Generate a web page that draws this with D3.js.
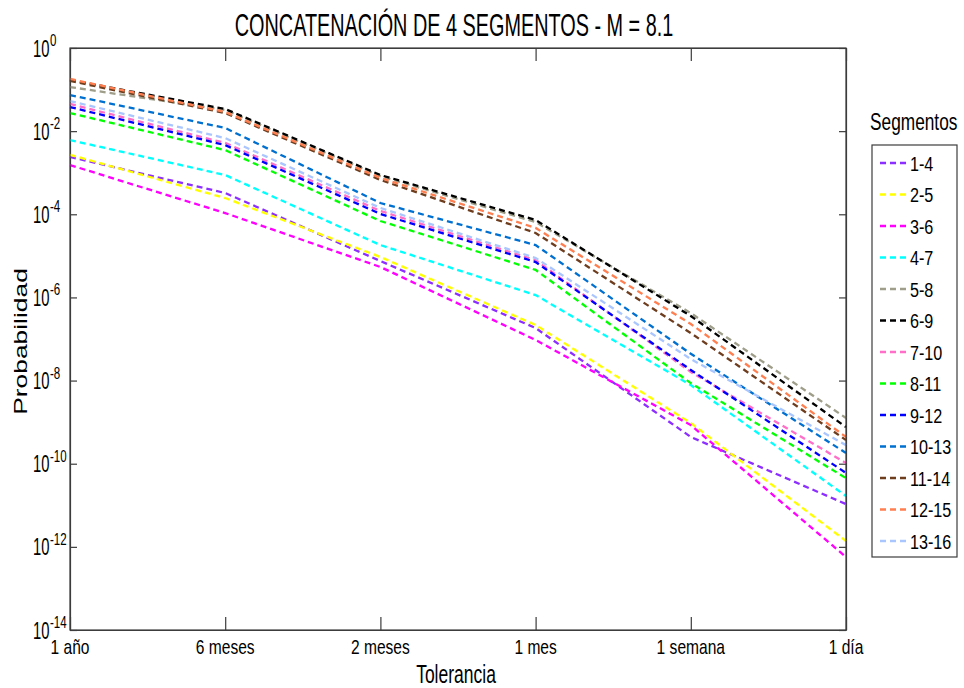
<!DOCTYPE html>
<html>
<head>
<meta charset="utf-8">
<script src="https://cdn.jsdelivr.net/npm/d3@7/dist/d3.min.js"></script>
<style>
  html, body { margin: 0; padding: 0; background: #fff; }
  svg text { font-family: Arial, "Liberation Sans", Helvetica, sans-serif; fill: #000; }
</style>
</head>
<body>
<svg id="chart" width="964" height="688"></svg>
<script>
// Tolerance categories along the x axis
const categories = ["1 año", "6 meses", "2 meses", "1 mes", "1 semana", "1 día"];

// Probability per tolerance for each group of 4 segments
const seg1_4   = [2.4e-3, 3.25e-4, 7.5e-6, 1.84e-7, 4.4e-10, 1.07e-11];
const seg2_5   = [2.7e-3, 2.46e-4, 9.4e-6, 2.17e-7, 9.5e-10, 1.38e-12];
const seg3_6   = [1.53e-3, 1.07e-4, 5.4e-6, 9.5e-8, 8.5e-10, 5.7e-13];
const seg4_7   = [6.1e-3, 8.8e-4, 1.82e-5, 1.14e-6, 7.8e-9, 1.67e-11];
const seg5_8   = [0.115, 3.23e-2, 8.3e-4, 6.5e-5, 4.2e-7, 1.26e-9];
const seg6_9   = [0.170, 3.41e-2, 8.8e-4, 7.3e-5, 3.57e-7, 7.6e-10];
const seg7_10  = [4.5e-2, 5.2e-3, 1.2e-4, 7.9e-6, 1.61e-8, 1.04e-10];
const seg8_11  = [2.73e-2, 3.5e-3, 6.9e-5, 4.6e-6, 8.7e-9, 4.5e-11];
const seg9_12  = [3.8e-2, 4.6e-3, 1.02e-4, 7.1e-6, 1.8e-8, 6.0e-11];
const seg10_13 = [7.4e-2, 1.19e-2, 1.87e-4, 1.82e-5, 4.4e-8, 1.81e-10];
const seg11_14 = [0.161, 2.73e-2, 6.7e-4, 3.55e-5, 1.39e-7, 3.7e-10];
const seg12_15 = [0.180, 2.89e-2, 7.5e-4, 4.7e-5, 2.3e-7, 4.4e-10];
const seg13_16 = [5.3e-2, 6.8e-3, 1.42e-4, 8.9e-6, 3.3e-8, 2.8e-10];

const seriesNames = ["1-4", "2-5", "3-6", "4-7", "5-8", "6-9", "7-10", "8-11", "9-12", "10-13", "11-14", "12-15", "13-16"];
const seriesValues = [seg1_4, seg2_5, seg3_6, seg4_7, seg5_8, seg6_9, seg7_10, seg8_11, seg9_12, seg10_13, seg11_14, seg12_15, seg13_16];
const seriesColors = ["#8c2eff", "#ffff00", "#ff00ff", "#00ffff", "#9e9e8a", "#000000", "#ff6ec8",
                      "#00ff00", "#0000ff", "#0070d0", "#6e3d1e", "#ff7f50", "#aac6ff"];

// Decade ticks on the y axis (exponents of 10)
const yTickExponents = [0, -2, -4, -6, -8, -10, -12, -14];

const svg = d3.select("#chart");
const plot = { left: 70, right: 846, top: 48, bottom: 630 };
const axisColor = "#3c3c3c";

const x = d3.scalePoint().domain(categories).range([plot.left, plot.right]);
const y = d3.scaleLog().domain([1e-14, 1]).range([plot.bottom, plot.top]);

// Text drawn horizontally condensed (sx < 1)
function label(parent, str, px, py, size, sx, anchor) {
  return parent.append("text")
    .attr("transform", `translate(${px},${py}) scale(${sx},1)`)
    .attr("text-anchor", anchor || "start")
    .style("font-size", size + "px")
    .text(str);
}

// Axes: ticks point inward on all four sides
const yTickVals = yTickExponents.map(e => Math.pow(10, e));

svg.append("g").attr("transform", `translate(0,${plot.bottom})`)
  .call(d3.axisBottom(x).tickSize(-13).tickSizeOuter(0).tickFormat(""));
svg.append("g").attr("transform", `translate(0,${plot.top})`)
  .call(d3.axisTop(x).tickSize(-13).tickSizeOuter(0).tickFormat(""));
svg.append("g").attr("transform", `translate(${plot.left},0)`)
  .call(d3.axisLeft(y).tickValues(yTickVals).tickSize(-7).tickSizeOuter(0).tickFormat(""));
svg.append("g").attr("transform", `translate(${plot.right},0)`)
  .call(d3.axisRight(y).tickValues(yTickVals).tickSize(-7).tickSizeOuter(0).tickFormat(""));

svg.selectAll(".domain").attr("stroke", axisColor).attr("stroke-width", 1.2);
svg.selectAll(".tick line").attr("stroke", axisColor).attr("stroke-width", 1.2);

// Data lines
const line = d3.line()
  .x((d, i) => x(categories[i]))
  .y(d => y(d));

const lines = svg.append("g").attr("fill", "none");
seriesValues.forEach((vals, k) => {
  lines.append("path")
    .datum(vals)
    .attr("d", line)
    .attr("stroke", seriesColors[k])
    .attr("stroke-width", 2.3)
    .attr("stroke-dasharray", "6,4");
});

// Frame
svg.append("rect")
  .attr("x", plot.left).attr("y", plot.top)
  .attr("width", plot.right - plot.left).attr("height", plot.bottom - plot.top)
  .attr("fill", "none").attr("stroke", axisColor).attr("stroke-width", 1.2);

// Tick labels
categories.forEach(c => label(svg, c, x(c), 654, 20.5, 0.76, "middle"));
yTickExponents.forEach(e => {
  const ty = y(Math.pow(10, e));
  label(svg, "10", 33, ty + 8.5, 23.5, 0.63, "start");
  label(svg, String(e), 50, ty - 2, 17, 0.68, "start");
});

// Titles
label(svg, "CONCATENACIÓN DE 4 SEGMENTOS - M = 8.1", 454, 36, 31.5, 0.63, "middle");
label(svg, "Tolerancia", 456, 683, 25, 0.70, "middle");
svg.append("text")
  .attr("transform", "translate(27,341.5) scale(0.71,1) rotate(-90)")
  .attr("text-anchor", "middle")
  .style("font-size", "26.4px")
  .text("Probabilidad");

// Legend
label(svg, "Segmentos", 870, 130, 24, 0.72, "start");
const legend = svg.append("g");
legend.append("rect")
  .attr("x", 872).attr("y", 145).attr("width", 85).attr("height", 412)
  .attr("fill", "#fff").attr("stroke", axisColor).attr("stroke-width", 1.2);
seriesNames.forEach((name, k) => {
  const ly = 163 + k * 31.5;
  legend.append("line")
    .attr("x1", 880).attr("x2", 908).attr("y1", ly).attr("y2", ly)
    .attr("stroke", seriesColors[k]).attr("stroke-width", 2.3)
    .attr("stroke-dasharray", "6,4");
  label(legend, name, 910, ly + 7.5, 21, 0.77, "start");
});
</script>
</body>
</html>
